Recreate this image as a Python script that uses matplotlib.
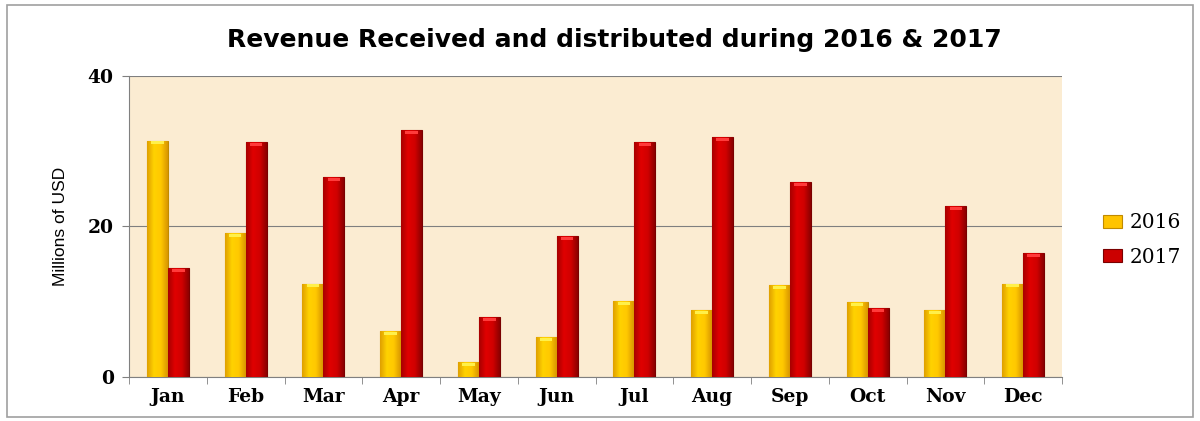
import numpy as np
import matplotlib.pyplot as plt
from matplotlib.patches import Rectangle
from matplotlib.colors import LinearSegmentedColormap

months = ['Jan', 'Feb', 'Mar', 'Apr', 'May', 'Jun',
          'Jul', 'Aug', 'Sep', 'Oct', 'Nov', 'Dec']
rev_2016 = [31.4, 19.1, 12.4, 6.1, 2.0, 5.3, 10.1, 8.9, 12.2, 10.0, 8.9, 12.4]
rev_2017 = [14.5, 31.2, 26.6, 32.8, 8.0, 18.7, 31.2, 31.9, 25.9, 9.2, 22.7, 16.5]

fig = plt.figure(figsize=(12, 4.21), dpi=100)
ax = fig.add_axes([0.1075, 0.1045, 0.7775, 0.715])

# cream background
ax.set_facecolor('#fbecd2')

x = np.arange(len(months))
w = 0.27
b1 = ax.bar(x - w / 2, rev_2016, w, color='#ffc400', edgecolor='#c08a00',
            linewidth=0.8, label='2016', zorder=3)
b2 = ax.bar(x + w / 2, rev_2017, w, color='#cc0000', edgecolor='#7a0000',
            linewidth=0.8, label='2017', zorder=3)

# shaded look: horizontal gradient clipped to each bar
cm_y = LinearSegmentedColormap.from_list('y', ['#e0a000', '#ffd200', '#ffc800', '#d89600'])
cm_r = LinearSegmentedColormap.from_list('r', ['#a80000', '#e00000', '#d00000', '#8c0000'])
grad = np.linspace(0, 1, 64).reshape(1, -1)
for bars, cmap, cap in ((b1, cm_y, '#fff04a'), (b2, cm_r, '#ff3b3b')):
    for r in bars:
        x0, h, bw = r.get_x(), r.get_height(), r.get_width()
        im = ax.imshow(grad, cmap=cmap, aspect='auto', extent=(x0, x0 + bw, 0, h),
                       zorder=3.5)
        im.set_clip_path(r)
        ax.add_patch(Rectangle((x0 + bw * 0.2, h - 0.5), bw * 0.6, 0.4,
                               color=cap, lw=0, zorder=4))

ax.set_xlim(-0.5, 11.5)
ax.set_ylim(0, 40)
ax.set_yticks([0, 20, 40])
ax.set_xticks(x)
ax.set_xticklabels(months)
ax.set_xticks(np.arange(-0.5, 12, 1), minor=True)
ax.tick_params(axis='x', which='major', length=0, pad=8)
ax.tick_params(axis='x', which='minor', length=5, color='#808080')
ax.tick_params(axis='y', length=5, color='#808080', pad=6)
for lab in ax.get_xticklabels() + ax.get_yticklabels():
    lab.set_fontfamily('DejaVu Serif')
    lab.set_fontweight('bold')
    lab.set_fontsize(13.5)

ax.grid(axis='y', color='#7f7f7f', linewidth=0.8, zorder=1)
for s in ('top', 'right'):
    ax.spines[s].set_visible(False)
ax.spines['left'].set_color('#808080')
ax.spines['bottom'].set_color('#808080')

ax.set_ylabel('Millions of USD', fontsize=12.5, fontfamily='Liberation Sans', labelpad=14)

fig.text(0.512, 0.905, 'Revenue Received and distributed during 2016 & 2017',
         ha='center', va='center', fontsize=18, fontweight='bold', fontfamily='DejaVu Sans')

leg = ax.legend(loc='center left', bbox_to_anchor=(1.025, 0.455), frameon=False,
                prop={'family': 'DejaVu Serif', 'size': 14.5}, handlelength=0.9,
                handleheight=0.6, handletextpad=0.4, labelspacing=0.75)

# outer frame
fig.patches.append(Rectangle((0.006, 0.01), 0.988, 0.978, transform=fig.transFigure,
                             fill=False, edgecolor='#a0a0a0', linewidth=1.2))

fig.savefig('out.png', dpi=100)
